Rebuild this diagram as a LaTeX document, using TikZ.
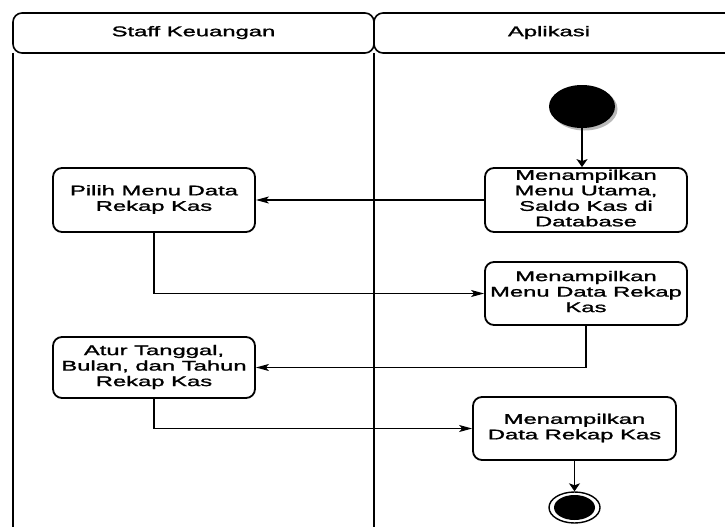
\documentclass[tikz,border=0pt]{standalone}
\usepackage{fontspec}
\usepackage{graphicx}
\setmainfont{Liberation Sans}[FakeBold=1.2]
\usetikzlibrary{arrows.meta,shapes.geometric}

% wide label: text set in a fixed size and stretched sideways
\newcommand\widelabel[1]{\scalebox{1.7}[1]{\begin{tabular}{@{}c@{}}#1\end{tabular}}}

\tikzset{
  lanehead/.style={draw, line width=1.6pt, rounded corners=9pt},
  laneline/.style={line width=1.6pt},
  actbox/.style={draw, line width=1.8pt, rounded corners=9pt, inner sep=0pt,
    font=\fontsize{14}{15.5}\selectfont, align=center},
  flow/.style={line width=1.2pt},
  harr/.style={flow, -{Stealth[length=13pt,width=7pt,inset=3pt]}},
  varr/.style={flow, -{Stealth[length=8pt,width=11pt,inset=2pt]}},
}

\begin{document}
\begin{tikzpicture}[x=1pt, y=-1pt]
  \useasboundingbox (0,0) rectangle (725,527);
  \clip (0,0) rectangle (725,527);

  % swimlanes
  \draw[lanehead] (13,13) rectangle (374,53);
  \draw[lanehead] (374,13) rectangle (740,53);
  \node[font=\fontsize{14}{16}\selectfont] (hstaff) at (193.5,33) {\widelabel{Staff Keuangan}};
  \node[font=\fontsize{14}{16}\selectfont] (happ) at (549,33) {\widelabel{Aplikasi}};
  \draw[laneline] (13,53) -- (13,527);
  \draw[line width=1.3pt] (374,53) -- (374,527);

  % initial state with its soft shadow
  \fill[gray!55] (584.5,109) ellipse [x radius=33pt, y radius=21.5pt];
  \node[ellipse, fill=black, inner sep=0pt, minimum width=66pt, minimum height=43pt] (start) at (582,106.5) {};

  % activities
  \node[actbox, minimum width=202pt, minimum height=64pt] (n1) at (586,200)
    {\widelabel{Menampilkan\\Menu Utama,\\Saldo Kas di\\Database}};
  \node[actbox, minimum width=202pt, minimum height=64pt] (pilih) at (154,200)
    {\widelabel{Pilih Menu Data\\Rekap Kas}};
  \node[actbox, minimum width=202pt, minimum height=63pt] (n2) at (586,293.5)
    {\widelabel{Menampilkan\\Menu Data Rekap\\Kas}};
  \node[actbox, minimum width=202pt, minimum height=61pt] (atur) at (154,367.5)
    {\widelabel{Atur Tanggal,\\Bulan, dan Tahun\\Rekap Kas}};
  \node[actbox, minimum width=203pt, minimum height=63pt] (n3) at (574.5,428.5)
    {\widelabel{Menampilkan\\Data Rekap Kas}};

  % final state
  \node[ellipse, draw, line width=1.4pt, inner sep=0pt, minimum width=51pt, minimum height=31pt] (fin) at (574.5,507.5) {};
  \node[ellipse, fill=black, inner sep=0pt, minimum width=41pt, minimum height=25pt] (finc) at (fin.center) {};

  % control flow
  \draw[varr] (start.south) -- (start.south |- n1.north);
  \draw[harr] (n1.west) -- (pilih.east);
  \draw[harr] (pilih.south) |- (n2.west);
  \draw[harr] (n2.south) |- (atur.east);
  \draw[harr] (atur.south) |- (n3.west);
  \draw[varr] (n3.south) -- (fin.north);
\end{tikzpicture}
\end{document}
